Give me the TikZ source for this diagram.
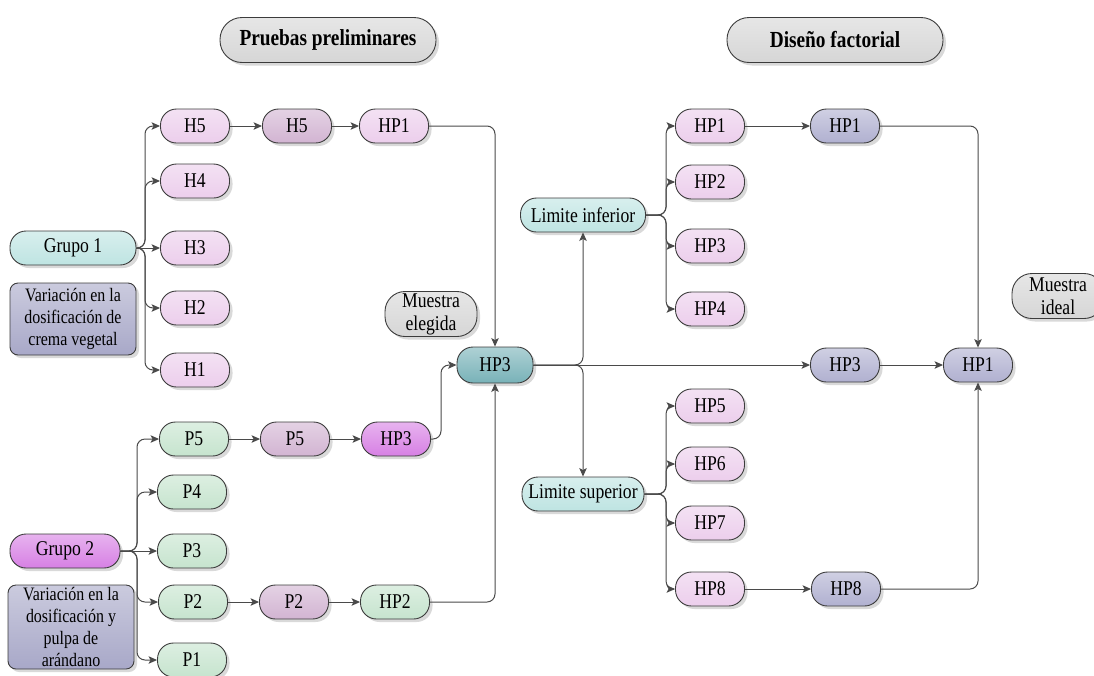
\documentclass[tikz,border=0pt]{standalone}
\usepackage{fontspec}
\setmainfont{Liberation Serif}[FakeStretch=0.84]
\usetikzlibrary{arrows.meta,shadows}

\definecolor{edgec}{HTML}{3C3C3C}
\definecolor{wirec}{HTML}{4A4A4A}
\definecolor{pinkc}{RGB}{236,206,236}
\definecolor{mauvec}{RGB}{210,180,210}
\definecolor{tealc}{RGB}{190,228,226}
\definecolor{greenc}{RGB}{198,228,206}
\definecolor{magc}{RGB}{215,128,228}
\definecolor{deeptealc}{RGB}{120,178,184}
\definecolor{lavc}{RGB}{176,176,208}
\definecolor{notec}{RGB}{168,168,200}
\definecolor{grayc}{RGB}{214,214,214}

\begin{document}
\begin{tikzpicture}[x=1pt,y=-1pt,
  pill/.style={draw=edgec, line width=0.9pt, rounded corners=16pt, inner sep=0pt,
    minimum height=34pt, align=center, font=\fontsize{21}{24}\selectfont,
    drop shadow={shadow xshift=3pt, shadow yshift=-3pt, opacity=0.3}},
  tint/.style={top color=#1!60!white, bottom color=#1},
  small/.style={pill, minimum width=69pt},
  note/.style={draw=edgec, line width=0.9pt, rounded corners=8pt, inner sep=0pt,
    minimum width=126pt, align=center, font=\fontsize{19}{22}\selectfont,
    tint=notec, drop shadow={shadow xshift=3pt, shadow yshift=-3pt, opacity=0.3}},
  title/.style={pill, tint=grayc, minimum width=216pt, minimum height=45pt,
    rounded corners=22pt, font=\fontsize{23}{26}\selectfont\bfseries},
  wire/.style={draw=wirec, line width=1pt, rounded corners=8pt},
  arr/.style={wire, -{Stealth[length=8.5pt,width=7.5pt,inset=2pt]}}
]
\useasboundingbox (0,0) rectangle (1094,675);

% section headings
\node[title] (t1) at (328,40) {Pruebas preliminares};
\node[title] (t2) at (835,40) {Diseño factorial};

% group 1 and its variants
\node[pill, tint=tealc, minimum width=126pt] (g1) at (73,248) {Grupo 1};
\node[note, minimum height=72pt] (n1) at (73,319) {Variación en la\\dosificación de\\crema vegetal};
\node[small, tint=pinkc] (h5) at (195,126) {H5};
\node[small, tint=pinkc] (h4) at (195,181) {H4};
\node[small, tint=pinkc] (h3) at (195,248) {H3};
\node[small, tint=pinkc] (h2) at (195,308) {H2};
\node[small, tint=pinkc] (h1) at (195,370) {H1};
\node[small, tint=mauvec] (h5b) at (297,126) {H5};
\node[small, tint=pinkc] (hp1a) at (394,126) {HP1};

% group 2 and its variants
\node[pill, tint=magc, minimum width=110pt] (g2) at (65,551) {Grupo 2};
\node[note, minimum height=84pt] (n2) at (71,627) {Variación en la\\dosificación y\\pulpa de\\arándano};
\node[small, tint=greenc] (p5) at (194,439) {P5};
\node[small, tint=greenc] (p4) at (192,492) {P4};
\node[small, tint=greenc] (p3) at (192,551) {P3};
\node[small, tint=greenc] (p2) at (193,602) {P2};
\node[small, tint=greenc] (p1) at (192,660) {P1};
\node[small, tint=mauvec] (p5b) at (295,439) {P5};
\node[small, tint=magc] (hp3m) at (396,439) {HP3};
\node[small, tint=mauvec] (p2b) at (294,602) {P2};
\node[small, tint=greenc] (hp2) at (395,602) {HP2};

% chosen sample
\node[pill, tint=deeptealc, minimum width=76pt, minimum height=36pt] (hp3) at (495,365) {HP3};
\node[pill, tint=grayc, minimum width=92pt, minimum height=45pt, rounded corners=20pt,
  font=\fontsize{21}{23}\selectfont] (me) at (431,314) {Muestra\\elegida};

% factorial design
\node[pill, tint=tealc, minimum width=125pt] (li) at (583,215) {Limite inferior};
\node[pill, tint=tealc, minimum width=122pt] (ls) at (583,494) {Limite superior};
\node[small, tint=pinkc] (r1) at (710,126) {HP1};
\node[small, tint=pinkc] (r2) at (710,182) {HP2};
\node[small, tint=pinkc] (r3) at (710,246) {HP3};
\node[small, tint=pinkc] (r4) at (710,309) {HP4};
\node[small, tint=pinkc] (r5) at (710,406) {HP5};
\node[small, tint=pinkc] (r6) at (710,464) {HP6};
\node[small, tint=pinkc] (r7) at (710,523) {HP7};
\node[small, tint=pinkc] (r8) at (710,589) {HP8};
\node[small, tint=lavc] (hp1p) at (845,126) {HP1};
\node[small, tint=lavc] (hp3p) at (845,365) {HP3};
\node[small, tint=lavc] (hp8p) at (846,589) {HP8};
\node[small, tint=lavc] (hpf) at (978,365) {HP1};
\node[pill, tint=grayc, minimum width=92pt, minimum height=45pt, rounded corners=20pt,
  font=\fontsize{21}{23}\selectfont] (mi) at (1058,296) {Muestra\\ideal};

% branch points
\coordinate (j1) at (145,248);
\coordinate (j2) at (137,551);
\coordinate (j3) at (441,439);
\coordinate (j5) at (666,215);
\coordinate (j6) at (666,494);

% group 1 connectors
\foreach \n in {h5,h4,h2,h1} \draw[arr] (g1.east) -- (j1) |- (\n.west);
\draw[arr] (g1.east) -- (h3.west);
\draw[arr] (h5.east) -- (h5b.west);
\draw[arr] (h5b.east) -- (hp1a.west);
\draw[arr] (hp1a.east) -| (hp3.north);

% group 2 connectors
\foreach \n in {p5,p4,p2,p1} \draw[arr] (g2.east) -- (j2) |- (\n.west);
\draw[arr] (g2.east) -- (p3.west);
\draw[arr] (p5.east) -- (p5b.west);
\draw[arr] (p5b.east) -- (hp3m.west);
\draw[arr] (hp3m.east) -- (j3) |- (hp3.west);
\draw[arr] (p2.east) -- (p2b.west);
\draw[arr] (p2b.east) -- (hp2.west);
\draw[arr] (hp2.east) -| (hp3.south);

% factorial connectors
\draw[arr] (hp3.east) -| (li.south);
\draw[arr] (hp3.east) -| (ls.north);
\draw[arr] (hp3.east) -- (hp3p.west);
\foreach \n in {r1,r2,r3,r4} \draw[arr] (li.east) -- (j5) |- (\n.west);
\foreach \n in {r5,r6,r7,r8} \draw[arr] (ls.east) -- (j6) |- (\n.west);
\draw[arr] (r1.east) -- (hp1p.west);
\draw[arr] (hp1p.east) -| (hpf.north);
\draw[arr] (hp3p.east) -- (hpf.west);
\draw[arr] (r8.east) -- (hp8p.west);
\draw[arr] (hp8p.east) -| (hpf.south);
\end{tikzpicture}
\end{document}
